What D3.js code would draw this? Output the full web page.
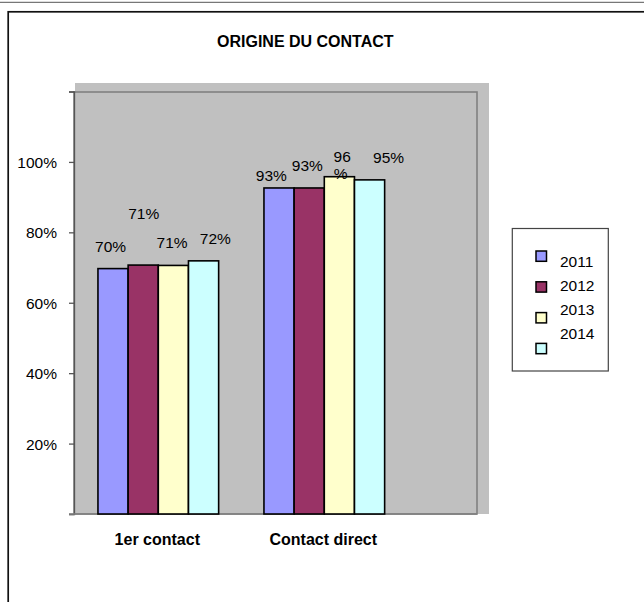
<!DOCTYPE html>
<html>
<head>
<meta charset="utf-8">
<script src="https://cdn.jsdelivr.net/npm/d3@7/dist/d3.min.js"></script>
<style>
  html, body { margin: 0; padding: 0; background: #fff; }
  svg { display: block; font-family: "Liberation Sans", Arial, sans-serif; }
</style>
</head>
<body>
<svg id="chart" width="644" height="602"></svg>
<script>
// ---- data ----
const categories = ["1er contact", "Contact direct"];
const seriesNames = ["2011", "2012", "2013", "2014"];
const values2011 = [0.697, 0.926];
const values2012 = [0.707, 0.926];
const values2013 = [0.706, 0.958];
const values2014 = [0.719, 0.949];
const yTicks = [0.2, 0.4, 0.6, 0.8, 1.0, 1.2];
const chartTitle = "ORIGINE DU CONTACT";

// ---- styles / layout ----
const colors = ["#9999FF", "#993366", "#FFFFCC", "#CCFFFF"];
const seriesValues = [values2011, values2012, values2013, values2014];
// label offsets [dx, dy(baseline relative to bar top)] per category, per series
const labelOffsets = [
  [[-2.5, -16.5], [0.5, -46], [-1.3, -17.5], [11.8, -17.3]],
  [[-7.7, -6.5], [-1.9, -17.3], [2.8, -14.7], [19, -17.3]]
];
const wrapLabel = (ci, si) => ci === 1 && si === 2;

const svg = d3.select("#chart");

// top thin line & outer frame
svg.append("line").attr("x1", 0).attr("x2", 644).attr("y1", 2.3).attr("y2", 2.3)
  .attr("stroke", "#555").attr("stroke-width", 1);
svg.append("rect").attr("x", 8.2).attr("y", 11.8).attr("width", 800).attr("height", 800)
  .attr("fill", "none").attr("stroke", "#111").attr("stroke-width", 1.7);

// title
svg.append("text").attr("x", 305.3).attr("y", 46.7).attr("text-anchor", "middle")
  .attr("font-size", 16).attr("font-weight", "bold").attr("fill", "#000").text(chartTitle);

// scales
const plotLeft = 74, plotRight = 477, plotTop = 92, plotBottom = 514;
const y = d3.scaleLinear().domain([0, 1.2]).range([plotBottom, 91.5]);
const x0 = d3.scaleBand().domain(categories).range([75.3, 407.3])
  .paddingInner(0.273).paddingOuter(0.1365);
const x1 = d3.scaleBand().domain(seriesNames).range([0, x0.bandwidth()]);

// plot background (gray) and border
svg.append("rect").attr("x", 75).attr("y", 83).attr("width", 489 - 75).attr("height", plotBottom - 83)
  .attr("fill", "#C0C0C0");
svg.append("rect").attr("x", plotLeft).attr("y", plotTop)
  .attr("width", plotRight - plotLeft).attr("height", plotBottom - plotTop)
  .attr("fill", "none").attr("stroke", "#808080").attr("stroke-width", 1.6);

// y axis
const yAxis = d3.axisLeft(y).tickValues([0].concat(yTicks)).tickSize(5).tickPadding(12)
  .tickFormat(d => (d === 0 || d > 1.1) ? "" : d3.format(".0%")(d));
const gy = svg.append("g").attr("transform", `translate(${plotLeft},0)`).call(yAxis);
gy.select(".domain").attr("stroke", "#555").attr("stroke-width", 1.3);
gy.selectAll(".tick line").attr("stroke", "#555").attr("stroke-width", 1.3);
gy.selectAll(".tick text").attr("font-size", 15.5).attr("fill", "#000")
  .attr("font-family", "Liberation Sans, Arial, sans-serif").attr("dy", "0.36em");

// bottom axis line
svg.append("line").attr("x1", 69).attr("x2", plotRight).attr("y1", plotBottom).attr("y2", plotBottom)
  .attr("stroke", "#808080").attr("stroke-width", 1.6);

// bars
const rows = [];
categories.forEach((c, ci) => seriesNames.forEach((s, si) => rows.push({c, ci, s, si, v: seriesValues[si][ci]})));

svg.append("g").selectAll("rect").data(rows).join("rect")
  .attr("x", d => x0(d.c) + x1(d.s))
  .attr("y", d => y(d.v))
  .attr("width", x1.bandwidth())
  .attr("height", d => y(0) - y(d.v))
  .attr("fill", d => colors[d.si])
  .attr("stroke", "#000").attr("stroke-width", 1.6);

// data labels
const fmt = d3.format(".0%");
const lbl = svg.append("g").selectAll("text").data(rows).join("text")
  .attr("x", d => x0(d.c) + x1(d.s) + x1.bandwidth() / 2 + labelOffsets[d.ci][d.si][0])
  .attr("y", d => y(d.v) + labelOffsets[d.ci][d.si][1])
  .attr("text-anchor", "middle").attr("font-size", 15.5).attr("fill", "#000");
lbl.each(function(d) {
  const t = fmt(d.v);
  const el = d3.select(this);
  if (wrapLabel(d.ci, d.si)) {
    const x = el.attr("x");
    el.append("tspan").attr("x", x).text(t.slice(0, -1));
    el.append("tspan").attr("x", +x - 1.5).attr("dy", 17).text("%");
  } else {
    el.text(t);
  }
});

// category labels
svg.append("g").selectAll("text").data(categories).join("text")
  .attr("x", d => x0(d) + x0.bandwidth() / 2 - 1)
  .attr("y", 545)
  .attr("text-anchor", "middle").attr("font-size", 16).attr("font-weight", "bold").attr("fill", "#000")
  .text(d => d);

// legend
const lg = svg.append("g");
lg.append("rect").attr("x", 512.3).attr("y", 228.5).attr("width", 96).attr("height", 142.5)
  .attr("fill", "#fff").attr("stroke", "#444").attr("stroke-width", 1.2);
lg.selectAll("rect.sw").data(seriesNames).join("rect").attr("class", "sw")
  .attr("x", 536).attr("y", (d, i) => 251 + i * 30.8)
  .attr("width", 10.5).attr("height", 10.3)
  .attr("fill", (d, i) => colors[i]).attr("stroke", "#000").attr("stroke-width", 1.5);
lg.selectAll("text").data(seriesNames).join("text")
  .attr("x", 560).attr("y", (d, i) => 266.7 + i * 24.1)
  .attr("font-size", 15.5).attr("fill", "#000").text(d => d);
</script>
</body>
</html>
